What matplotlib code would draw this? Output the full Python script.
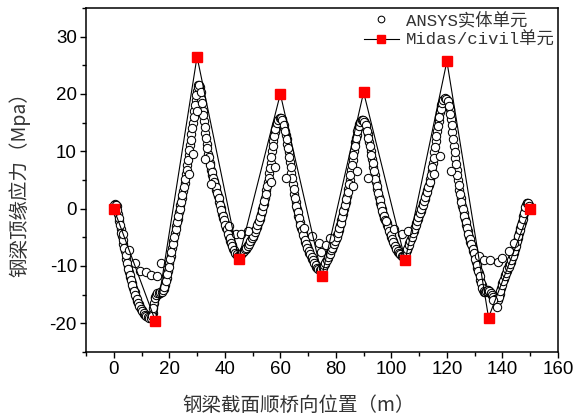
import numpy as np
import matplotlib
matplotlib.use('Agg')
import matplotlib.pyplot as plt
from matplotlib.ticker import MultipleLocator

plt.rcParams['axes.unicode_minus'] = False

# ANSYS solid model, top flange stress (MPa)
# row A: nodes every 0.5 m starting at 0 m
ansys_step = 0.5
ansys_y = [
    0.5, 0.8, 0.4, -0.9, -2.2, -3.5, -4.8, -6.1, -7.4, -8.7,
    -10.0, -11.0, -12.0, -12.9, -13.8, -14.6, -15.4, -16.1, -16.7, -17.2,
    -17.6, -18.0, -18.3, -18.5, -18.7, -18.8, -18.9, -18.9, -18.2, -16.4,
    -15.4, -15.0, -14.9, -14.8, -14.6, -14.4, -14.0, -13.3, -12.1, -10.8,
    -9.5, -8.2, -6.9, -5.6, -4.3, -3.0, -1.8, -0.6, 0.6, 1.8,
    3.1, 4.5, 6.0, 7.6, 9.3, 11.1, 13.0, 15.0, 17.0, 19.0,
    20.6, 21.6, 21.2, 19.2, 17.1, 15.2, 13.2, 11.3, 9.5, 8.0,
    6.8, 5.8, 4.9, 4.1, 3.2, 2.2, 1.2, 0.1, -0.9, -1.7,
    -2.5, -3.3, -4.1, -4.9, -5.7, -6.4, -7.0, -7.5, -7.9, -8.1,
    -8.2, -8.1, -7.9, -7.6, -7.3, -7.0, -6.7, -6.3, -5.9, -5.5,
    -5.0, -4.4, -3.8, -3.2, -2.5, -1.8, -1.0, -0.1, 0.8, 1.9,
    3.2, 4.6, 6.2, 8.0, 10.0, 11.8, 13.3, 14.5, 15.3, 15.7,
    15.8, 15.6, 15.0, 14.0, 12.8, 11.3, 9.8, 8.2, 6.3, 4.3,
    2.6, 1.2, -0.1, -1.2, -2.3, -3.3, -4.2, -5.0, -5.8, -6.5,
    -7.1, -7.7, -8.3, -8.8, -9.3, -9.7, -10.1, -10.4, -10.6, -10.6,
    -10.4, -10.1, -9.6, -9.1, -8.6, -8.1, -7.6, -7.1, -6.5, -5.9,
    -5.3, -4.6, -3.8, -2.9, -2.0, -1.0, 0.0, 1.1, 2.2, 3.5,
    5.0, 6.7, 8.5, 10.1, 11.6, 12.9, 14.0, 14.8, 15.3, 15.5,
    15.3, 14.9, 14.2, 13.0, 11.6, 10.1, 8.6, 7.2, 5.9, 4.6,
    3.4, 2.1, 0.9, -0.1, -0.9, -1.6, -2.2, -2.9, -3.6, -4.3,
    -5.0, -5.6, -6.2, -6.7, -7.2, -7.6, -7.9, -8.1, -8.2, -8.1,
    -7.8, -7.3, -6.7, -6.0, -5.3, -4.6, -3.9, -3.2, -2.5, -1.8,
    -1.1, -0.4, 0.3, 1.0, 1.7, 2.5, 3.3, 4.2, 5.2, 6.5,
    8.0, 9.8, 11.8, 13.6, 15.2, 16.8, 18.0, 18.8, 19.2, 19.2,
    18.9, 18.4, 17.3, 15.6, 13.4, 11.0, 8.8, 6.8, 5.0, 3.3,
    1.8, 0.5, -0.7, -1.8, -2.9, -3.9, -4.9, -5.8, -6.6, -7.4,
    -8.3, -9.3, -10.3, -11.3, -12.4, -13.4, -14.2, -14.5, -14.4, -14.2,
    -14.3, -14.6, -14.9, -15.2, -15.6, -15.9, -16.1, -15.8, -14.9, -13.9,
    -13.0, -12.2, -11.5, -10.9, -10.4, -9.9, -9.3, -8.6, -7.8, -7.0,
    -6.1, -5.2, -4.3, -3.4, -2.4, -1.3, -0.2, 0.6, 1.0, 0.7,
    0.2,
]

# row B: nodes every 0.5 m starting at 0.25 m
ansys_b_start = 0.25
ansys_y_b = [
    0.7, 0.7, -0.2, -1.6, -2.9, -4.2, -5.5, -6.8, -8.1, -9.4,
    -10.6, -11.6, -12.5, -13.4, -14.3, -15.1, -15.8, -16.5, -17.0, -17.5,
    -17.9, -18.2, -18.5, -18.7, -18.9, -19.0, -19.1, -18.7, -17.4, -15.6,
    -15.1, -14.8, -14.7, -14.6, -14.5, -14.2, -13.7, -12.7, -11.4, -10.1,
    -8.8, -7.5, -6.2, -4.9, -3.6, -2.4, -1.2, 0.0, 1.2, 2.4,
    3.8, 5.2, 6.8, 8.4, 10.2, 12.0, 14.0, 16.0, 18.0, 19.8,
    21.2, 21.6, 20.4, 18.4, 16.3, 14.3, 12.4, 10.6, 9.0, 7.6,
    6.4, 5.4, 4.6, 3.7, 2.8, 1.8, 0.7, -0.3, -1.2, -2.0,
    -2.8, -3.6, -4.4, -5.2, -6.0, -6.6, -7.2, -7.7, -8.0, -8.3,
    -8.3, -8.0, -7.7, -7.4, -7.1, -6.8, -6.5, -6.1, -5.7, -5.2,
    -4.7, -4.1, -3.5, -2.8, -2.1, -1.4, -0.5, 0.4, 1.4, 2.5,
    3.9, 5.4, 7.1, 9.0, 10.9, 12.6, 13.9, 14.9, 15.5, 15.8,
    15.8, 15.4, 14.6, 13.5, 12.1, 10.6, 9.0, 7.3, 5.3, 3.4,
    1.9, 0.5, -0.6, -1.7, -2.8, -3.7, -4.6, -5.4, -6.1, -6.8,
    -7.4, -8.0, -8.5, -9.0, -9.5, -9.9, -10.3, -10.5, -10.7, -10.5,
    -10.3, -9.8, -9.4, -8.9, -8.4, -7.9, -7.3, -6.8, -6.2, -5.6,
    -4.9, -4.2, -3.4, -2.5, -1.5, -0.5, 0.6, 1.7, 2.9, 4.3,
    5.9, 7.6, 9.3, 10.9, 12.3, 13.5, 14.4, 15.1, 15.5, 15.4,
    15.1, 14.6, 13.6, 12.3, 10.9, 9.4, 7.9, 6.5, 5.2, 4.0,
    2.8, 1.5, 0.4, -0.5, -1.2, -1.9, -2.5, -3.2, -3.9, -4.6,
    -5.3, -5.9, -6.5, -7.0, -7.4, -7.8, -8.0, -8.2, -8.2, -8.0,
    -7.6, -7.0, -6.4, -5.7, -5.0, -4.2, -3.5, -2.8, -2.1, -1.4,
    -0.7, 0.0, 0.7, 1.4, 2.1, 2.9, 3.8, 4.7, 5.8, 7.2,
    8.9, 10.8, 12.7, 14.4, 16.0, 17.4, 18.4, 19.0, 19.3, 19.1,
    18.7, 17.9, 16.5, 14.5, 12.2, 9.9, 7.8, 5.9, 4.1, 2.5,
    1.1, -0.1, -1.2, -2.3, -3.4, -4.4, -5.3, -6.2, -7.0, -7.8,
    -8.8, -9.8, -10.8, -11.8, -12.9, -13.8, -14.4, -14.5, -14.3, -14.2,
    -14.4, -14.7, -15.0, -15.4, -15.7, -16.0, -16.0, -15.4, -14.4, -13.4,
    -12.6, -11.8, -11.2, -10.6, -10.1, -9.6, -8.9, -8.2, -7.4, -6.5,
    -5.6, -4.7, -3.8, -2.9, -1.8, -0.7, 0.2, 0.9, 0.9, 0.4,
]

# scattered web / flange-edge nodes
ansys_x2 = [3.5, 5.5, 7.5, 9.5, 11.5, 13.5, 15.5, 17.0, 27.0, 28.5, 30.0, 33.0, 35.0,
            41.5, 44.0, 46.0, 48.5, 56.5, 58.0, 62.0, 68.5, 71.5, 74.0, 74.5, 76.5, 78.0,
            86.0, 87.5, 91.5, 98.0, 101.0, 104.0, 106.0, 115.5, 117.5, 121.5,
            131.5, 133.5, 135.5, 138.5, 140.0, 142.5, 144.0, 136.5, 138.0]
ansys_y2 = [-4.5, -7.2, -9.5, -10.9, -11.1, -11.5, -11.7, -9.5, 6.0, 9.6, 17.0, 8.7, 4.3,
            -3.0, -4.5, -4.5, -3.9, 4.6, 7.2, 5.4, -3.3, -4.8, -6.0, -7.6, -6.3, -5.1,
            4.0, 6.6, 5.4, -2.2, -3.6, -4.5, -3.9, 6.0, 9.2, 6.6,
            -8.3, -8.9, -8.9, -9.3, -8.6, -7.4, -6.0, -16.0, -17.2]

# Midas/civil beam model
midas_x = [0, 15, 30, 45, 60, 75, 90, 105, 120, 135, 150]
midas_y = [0.0, -19.6, 26.5, -8.7, 20.0, -11.7, 20.3, -9.0, 25.7, -19.0, 0.0]

ansys_x = np.arange(len(ansys_y)) * ansys_step
ansys_x_b = ansys_b_start + np.arange(len(ansys_y_b)) * ansys_step

fig = plt.figure(figsize=(5.87, 4.19), dpi=100)
ax = fig.add_axes([0.1465, 0.160, 0.804, 0.821])

circ = dict(linestyle='none', marker='o', markersize=6.0, markerfacecolor='white',
            markeredgecolor='black', markeredgewidth=0.75)
ax.plot(ansys_x, ansys_y, label='ANSYS实体单元', **circ)
ax.plot(ansys_x_b, ansys_y_b, **circ)
ax.plot(ansys_x2, ansys_y2, **circ)
ax.plot(midas_x, midas_y, color='black', linewidth=0.8, marker='s', markersize=7,
        markerfacecolor='red', markeredgecolor='red', label='Midas/civil单元')

ax.set_xlim(-10, 160)
ax.set_ylim(-25, 35)
ax.xaxis.set_major_locator(MultipleLocator(20))
ax.xaxis.set_minor_locator(MultipleLocator(10))
ax.yaxis.set_major_locator(MultipleLocator(10))
ax.yaxis.set_minor_locator(MultipleLocator(5))
ax.tick_params(which='both', direction='out', top=False, right=False, width=1.0)
ax.tick_params(which='major', length=4.5, labelsize=13.5, pad=2)
ax.tick_params(which='minor', length=3)
for lab in ax.get_xticklabels() + ax.get_yticklabels():
    lab.set_family('Liberation Sans')
for s in ax.spines.values():
    s.set_linewidth(1.1)

cjk = ['Noto Sans CJK SC', 'DejaVu Sans']
ax.set_xlabel('钢梁截面顺桥向位置（m）', family=cjk, fontsize=14, color='#333333')
ax.set_ylabel('钢梁顶缘应力（Mpa）', family=cjk, fontsize=14, color='#333333')
ax.xaxis.set_label_coords(0.45, -0.125)
ax.yaxis.set_label_coords(-0.118, 0.5)

leg = ax.legend(loc='upper right', bbox_to_anchor=(1.0, 1.0), frameon=False,
                prop={'family': ['Liberation Mono', 'Noto Sans CJK SC'], 'size': 12.5},
                handlelength=2.0, handletextpad=0.4, labelspacing=0.2,
                borderaxespad=0.1, borderpad=0.1, markerscale=0.8)
for t in leg.get_texts():
    t.set_color('#333333')

fig.savefig('out.png', dpi=100)
